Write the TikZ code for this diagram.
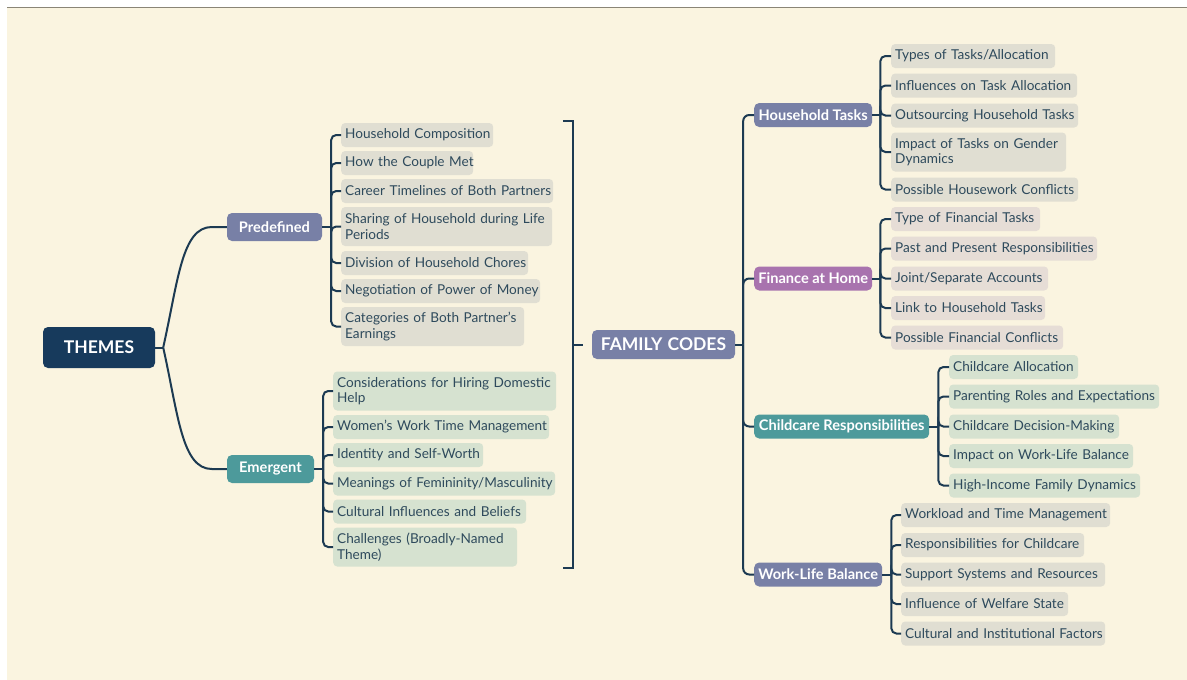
\documentclass[tikz,border=0pt]{standalone}
\usepackage{fontspec}
\setmainfont{Lato}
\usetikzlibrary{calc}
\definecolor{bgcream}{HTML}{FAF4E0}
\definecolor{topline}{HTML}{8A8576}
\definecolor{navy}{HTML}{173A5C}
\definecolor{linec}{HTML}{1C3A52}
\definecolor{slate}{HTML}{7880A6}
\definecolor{tealc}{HTML}{4D9A9B}
\definecolor{purp}{HTML}{A873AE}
\definecolor{lgrey}{HTML}{E0DED2}
\definecolor{lgreen}{HTML}{D6E2D0}
\definecolor{lpink}{HTML}{E6DDD6}
\definecolor{txt}{HTML}{2E4A5C}
\newcommand\nb[1]{\mbox{#1}}
\begin{document}
\begin{tikzpicture}[x=1pt,y=-1pt,
  conn/.style={draw=linec, line width=2pt, rounded corners=5pt},
  sq/.style={draw=linec, line width=2pt},
  leaf/.style={anchor=west, rounded corners=4pt, inner xsep=4pt, inner ysep=2pt,
    minimum height=24pt, align=left, text=txt, font=\fontsize{13.6}{15.5}\selectfont},
  tall/.style={minimum height=39pt},
  lg/.style={leaf, fill=lgrey},
  lgr/.style={leaf, fill=lgreen},
  lp/.style={leaf, fill=lpink},
  branch/.style={rounded corners=5pt, inner sep=0pt, text=white,
    font=\fontsize{14.6}{16}\selectfont\bfseries},
  bigbox/.style={rounded corners=5pt, inner sep=0pt, text=white,
    font=\fontsize{17.5}{20}\selectfont\bfseries}
]
\useasboundingbox (0,0) rectangle (1187,680);
\fill[white] (0,0) rectangle (1187,680);
\fill[bgcream] (7,8) rectangle (1187,680);
\draw[topline, line width=1.2pt] (7,7.5) -- (1187,7.5);

% ---------- main nodes
\node[bigbox, fill=navy, minimum width=112pt, minimum height=41pt] (th) at (99,347.5) {THEMES};
\node[branch, fill=slate, minimum width=95pt, minimum height=28pt] (pre) at (274.5,227) {Predefined};
\node[branch, fill=tealc, minimum width=87pt, minimum height=28pt] (em) at (270.5,469) {Emergent};
\node[bigbox, fill=slate, minimum width=143pt, minimum height=29pt] (fc) at (663.5,344.5) {FAMILY\hspace{0.3em}CODES};
\node[branch, fill=slate, anchor=west, minimum width=118pt, minimum height=24pt] (ht) at (754,115) {Household Tasks};
\node[branch, fill=purp, anchor=west, minimum width=118pt, minimum height=24pt] (fh) at (754,278.5) {Finance at Home};
\node[branch, fill=tealc, anchor=west, minimum width=175pt, minimum height=24pt] (cr) at (754,426.5) {Childcare Responsibilities};
\node[branch, fill=slate, anchor=west, minimum width=128pt, minimum height=24pt] (wl) at (754,574.5) {Work-Life Balance};

% ---------- predefined leaves
\node[lg, text width=144pt] (p1) at (341,135) {\nb{Household Composition}};
\node[lg, text width=124pt] (p2) at (341,163) {\nb{How the Couple Met}};
\node[lg, text width=204pt] (p3) at (341,191) {\nb{Career Timelines of Both Partners}};
\node[lg, tall, text width=203pt] (p4) at (341,226.5) {\nb{Sharing of Household during Life}\\\nb{Periods}};
\node[lg, text width=179pt] (p5) at (341,263) {\nb{Division of Household Chores}};
\node[lg, text width=191pt] (p6) at (341,291) {\nb{Negotiation of Power of Money}};
\node[lg, tall, text width=175pt] (p7) at (341,326.5) {\nb{Categories of Both Partner's}\\\nb{Earnings}};

% ---------- emergent leaves
\node[lgr, tall, text width=215pt] (e1) at (333,391) {\nb{Considerations for Hiring Domestic}\\\nb{Help}};
\node[lgr, text width=208pt] (e2) at (333,427) {\nb{Women's Work Time Management}};
\node[lgr, text width=142pt] (e3) at (333,455) {\nb{Identity and Self-Worth}};
\node[lgr, text width=214pt] (e4) at (333,483.5) {\nb{Meanings of Femininity/Masculinity}};
\node[lgr, text width=185pt] (e5) at (333,511.5) {\nb{Cultural Influences and Beliefs}};
\node[lgr, tall, text width=176pt] (e6) at (333,547) {\nb{Challenges (Broadly-Named}\\\nb{Theme)}};

% ---------- household tasks leaves
\node[lg, text width=156pt] (h1) at (891,56) {\nb{Types of Tasks/Allocation}};
\node[lg, text width=178pt] (h2) at (891,85.5) {\nb{Influences on Task Allocation}};
\node[lg, text width=179pt] (h3) at (891,115.5) {\nb{Outsourcing Household Tasks}};
\node[lg, tall, text width=167pt] (h4) at (891,152) {\nb{Impact of Tasks on Gender}\\\nb{Dynamics}};
\node[lg, text width=179pt] (h5) at (891,189.5) {\nb{Possible Housework Conflicts}};

% ---------- finance leaves
\node[lp, text width=141pt] (f1) at (891,219) {\nb{Type of Financial Tasks}};
\node[lp, text width=198pt] (f2) at (891,248.5) {\nb{Past and Present Responsibilities}};
\node[lp, text width=149pt] (f3) at (891,278.5) {\nb{Joint/Separate Accounts}};
\node[lp, text width=146pt] (f4) at (891,308) {\nb{Link to Household Tasks}};
\node[lp, text width=164pt] (f5) at (891,337.5) {\nb{Possible Financial Conflicts}};

% ---------- childcare leaves
\node[lgr, text width=121pt] (c1) at (949,367) {\nb{Childcare Allocation}};
\node[lgr, text width=202pt] (c2) at (949,396.5) {\nb{Parenting Roles and Expectations}};
\node[lgr, text width=162pt] (c3) at (949,426.5) {\nb{Childcare Decision-Making}};
\node[lgr, text width=176pt] (c4) at (949,456) {\nb{Impact on Work-Life Balance}};
\node[lgr, text width=183pt] (c5) at (949,485.5) {\nb{High-Income Family Dynamics}};

% ---------- work-life leaves
\node[lg, text width=201pt] (w1) at (901,515) {\nb{Workload and Time Management}};
\node[lg, text width=175pt] (w2) at (901,545) {\nb{Responsibilities for Childcare}};
\node[lg, text width=196pt] (w3) at (901,574.5) {\nb{Support Systems and Resources}};
\node[lg, text width=159pt] (w4) at (901,604) {\nb{Influence of Welfare State}};
\node[lg, text width=196pt] (w5) at (901,633.5) {\nb{Cultural and Institutional Factors}};

% ---------- connectors: THEMES
\coordinate (tj) at ($(th.east)+(8,0)$);
\draw[sq] (th.east) -- (tj);
\draw[sq] (tj) .. controls ($(tj)+(15,-67)$) and ($(pre.west)+(-45,0)$) .. ($(pre.west)+(-15,0)$) -- (pre.west);
\draw[sq] (tj) .. controls ($(tj)+(15,67)$) and ($(em.west)+(-45,0)$) .. ($(em.west)+(-15,0)$) -- (em.west);

% predefined
\coordinate (pj) at ($(pre.east)+(9,0)$);
\draw[sq] (pre.east) -- (pj);
\foreach \n in {p1,p2,p3,p4,p5,p6,p7} \draw[conn] (pj) |- (\n.west);

% emergent
\coordinate (ej) at ($(em.east)+(9,0)$);
\draw[sq] (em.east) -- (ej);
\foreach \n in {e1,e2,e3,e4,e5,e6} \draw[conn] (ej) |- (\n.west);

% family codes left bracket
\coordinate (fl) at ($(fc.west)+(-19,0)$);
\coordinate (bt) at ($(fl)+(-10,-223.5)$);
\coordinate (bb) at ($(fl)+(-10,223.5)$);
\draw[sq] ($(fc.west)+(-9,0)$) -- (fl);
\draw[sq] (bt) -- (bt -| fl) -- (bb -| fl) -- (bb);

% family codes right
\coordinate (fj) at ($(fc.east)+(8,0)$);
\draw[sq] (fc.east) -- (fj);
\foreach \n in {ht,fh,cr,wl} \draw[conn, rounded corners=6pt] (fj) |- (\n.west);

% household tasks
\coordinate (hj) at ($(ht.east)+(8,0)$);
\draw[sq] (ht.east) -- (hj);
\foreach \n in {h1,h2,h3,h4,h5} \draw[conn] (hj) |- (\n.west);

% finance
\coordinate (fhj) at ($(fh.east)+(8,0)$);
\draw[sq] (fh.east) -- (fhj);
\foreach \n in {f1,f2,f3,f4,f5} \draw[conn] (fhj) |- (\n.west);

% childcare
\coordinate (cj) at ($(cr.east)+(9,0)$);
\draw[sq] (cr.east) -- (cj);
\foreach \n in {c1,c2,c3,c4,c5} \draw[conn] (cj) |- (\n.west);

% work-life
\coordinate (wj) at ($(wl.east)+(9,0)$);
\draw[sq] (wl.east) -- (wj);
\foreach \n in {w1,w2,w3,w4,w5} \draw[conn] (wj) |- (\n.west);
\end{tikzpicture}
\end{document}
